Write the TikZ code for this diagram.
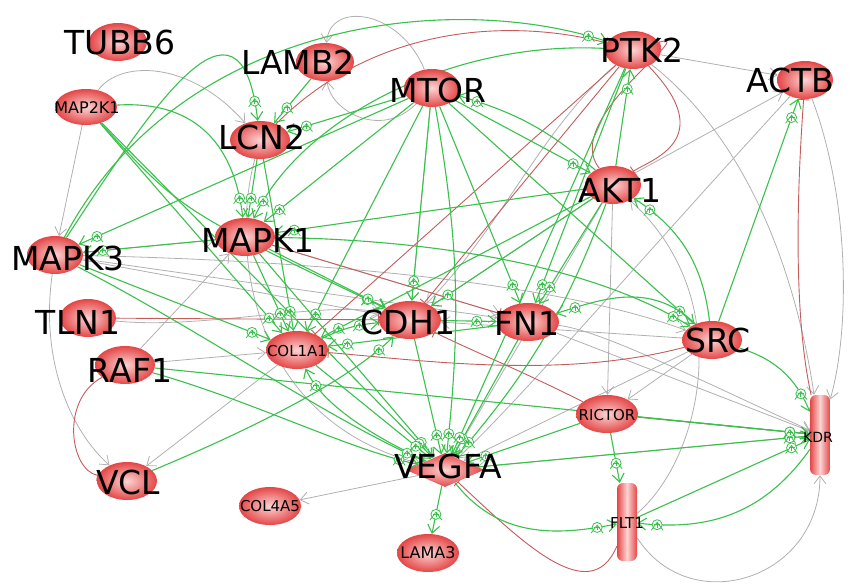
\documentclass[tikz,border=0pt]{standalone}
\usepackage{fontspec}
\setmainfont{DejaVu Sans}
\usetikzlibrary{arrows.meta, decorations.markings, backgrounds, shapes.geometric}
\definecolor{actgreen}{RGB}{58,192,76}
\definecolor{relgray}{RGB}{176,176,176}
\definecolor{inhred}{RGB}{196,92,92}
\definecolor{genein}{RGB}{252,212,212}
\definecolor{geneout}{RGB}{228,70,70}
\newcommand{\plusmark}{\pgftransformresetnontranslations
        \draw[actgreen, fill=white, line width=0.8pt] (0,0) circle (5pt);
        \draw[actgreen, line width=0.8pt] (-3pt,0) -- (3pt,0) (0,-3pt) -- (0,3pt);}
\tikzset{
    gene/.style={ellipse, inner sep=0pt, minimum width=60pt, minimum height=38pt, inner color=genein, outer color=geneout},
    receptor/.style={rectangle, rounded corners=6pt, inner sep=0pt, minimum width=20pt, minimum height=80pt, left color=geneout, right color=geneout, middle color=genein},
    biglabel/.style={font=\fontsize{33}{33}\selectfont, inner sep=0pt},
    smalllabel/.style={font=\fontsize{15}{15}\selectfont, inner sep=0pt},
    act/.style={draw=actgreen, line width=1.1pt, -{Straight Barb[length=8pt,width=12pt]}, postaction={decorate}, decoration={markings, mark=at position -20pt with {\plusmark}}},
    rel/.style={draw=relgray, line width=0.8pt, -{Straight Barb[length=8pt,width=12pt]}},
    inh/.style={draw=inhred, line width=0.9pt, -{Bar[width=11pt]}}
}
\begin{document}
\begin{tikzpicture}[x=1pt, y=-1pt]
        \useasboundingbox (0,0) rectangle (850,585);
        \node[gene, minimum width=58pt] (tubb6) at (118,42) {};
        \node[gene, minimum width=58pt] (lamb2) at (325,62) {};
        \node[gene, minimum width=62pt, minimum height=36pt] (map2k1) at (86,107) {};
        \node[gene] (lcn2) at (260,140) {};
        \node[gene, minimum width=56pt] (mtor) at (432,88) {};
        \node[gene, minimum width=56pt] (ptk2) at (633,50) {};
        \node[gene, minimum width=56pt] (actb) at (805,80) {};
        \node[gene, minimum width=56pt] (akt1) at (613,185) {};
        \node[gene] (mapk1) at (245,237) {};
        \node[gene, minimum width=56pt] (mapk3) at (55,255) {};
        \node[gene, minimum width=56pt] (tln1) at (88,318) {};
        \node[gene, minimum width=62pt] (col1a1) at (297,350) {};
        \node[gene, minimum width=62pt] (cdh1) at (410,320) {};
        \node[gene, minimum width=62pt] (fn1) at (528,322) {};
        \node[gene] (src) at (712,340) {};
        \node[gene] (raf1) at (125,365) {};
        \node[gene, minimum width=62pt] (rictor) at (607,414) {};
        \node[receptor] (kdr) at (820,435) {};
        \node[gene] (vcl) at (127,481) {};
        \node[diamond, aspect=2.4, inner sep=0pt, minimum width=78pt, minimum height=34pt, inner color=genein, outer color=geneout] (vegfa) at (445,470) {};
        \node[gene, minimum width=62pt] (col4a5) at (270,506) {};
        \node[receptor, minimum height=78pt] (flt1) at (627,522) {};
        \node[gene, minimum width=62pt] (lama3) at (428,553) {};

        \begin{pgfonlayer}{background}
        \draw[rel] (map2k1) -- (mapk3);
        \draw[rel] (map2k1) .. controls (120,60) and (190,60) .. (lcn2);
        \draw[rel] (mtor) .. controls (400,10) and (330,0) .. (lamb2);
        \draw[rel] (mtor) .. controls (380,140) and (330,110) .. (lamb2);
        \draw[rel] (ptk2) -- (actb);
        \draw[rel] (akt1) -- (actb);
        \draw[rel] (mapk3) -- (mapk1);
        \draw[rel] (mapk3) -- (cdh1);
        \draw[rel] (mapk3) -- (fn1);
        \draw[rel] (mapk3) .. controls (300,260) and (550,280) .. (src);
        \draw[rel] (mapk1) -- (fn1);
        \draw[rel] (raf1) -- (col1a1);
        \draw[rel] (raf1) -- (mapk1);
        \draw[rel] (mapk3) .. controls (40,360) and (70,430) .. (vcl);
        \draw[rel] (col1a1) -- (vcl);
        \draw[rel] (vegfa) -- (col4a5);
        \draw[rel] (src) -- (rictor);
        \draw[rel] (akt1) -- (rictor);
        \draw[rel] (actb) .. controls (850,200) and (850,330) .. (kdr);
        \draw[rel] (ptk2) .. controls (760,150) and (800,300) .. (kdr);
        \draw[rel] (fn1) -- (kdr);
        \draw[rel] (flt1) .. controls (690,620) and (820,580) .. (kdr);
        \draw[rel] (src) -- (cdh1);
        \draw[rel] (akt1) -- (cdh1);
        \draw[rel] (akt1) -- (vegfa);
        \draw[rel] (src) -- (vegfa);
        \draw[rel] (kdr) -- (vegfa);
        \draw[rel] (flt1) .. controls (700,460) and (740,300) .. (akt1);
        \draw[rel] (mtor) -- (cdh1);
        \draw[rel] (lcn2) .. controls (230,250) and (250,420) .. (vegfa);
        \draw[rel] (tln1) .. controls (200,330) and (330,300) .. (cdh1);
        \draw[rel] (ptk2) .. controls (540,130) and (500,230) .. (cdh1);
        \draw[rel] (actb) .. controls (640,260) and (520,400) .. (vegfa);
        \draw[rel] (fn1) .. controls (600,330) and (700,380) .. (kdr);
        \draw[inh] (lcn2) .. controls (380,20) and (520,20) .. (ptk2);
        \draw[inh] (raf1) .. controls (60,400) and (70,470) .. (vcl);
        \draw[inh] (tln1) -- (cdh1);
        \draw[inh] (mapk1) -- (fn1);
        \draw[inh] (ptk2) -- (cdh1);
        \draw[inh] (ptk2) -- (col1a1);
        \draw[inh] (kdr) .. controls (790,300) and (800,150) .. (actb);
        \draw[inh] (rictor) -- (kdr);
        \draw[inh] (rictor) .. controls (520,370) and (470,350) .. (cdh1);
        \draw[inh] (flt1) .. controls (590,610) and (520,540) .. (vegfa);
        \draw[inh] (ptk2) .. controls (720,140) and (650,160) .. (akt1);
        \draw[inh] (akt1) .. controls (560,120) and (700,30) .. (ptk2);
        \draw[inh] (src) .. controls (560,380) and (420,360) .. (col1a1);
        \draw[act] (lamb2) -- (lcn2);
        \draw[act] (map2k1) .. controls (200,100) and (235,150) .. (mapk1);
        \draw[act] (mapk3) .. controls (150,110) and (240,-30) .. (lcn2);
        \draw[act] (map2k1) -- (col1a1);
        \draw[act] (map2k1) .. controls (180,210) .. (cdh1);
        \draw[act] (mapk1) -- (mapk3);
        \draw[act] (mtor) -- (mapk3);
        \draw[act] (mtor) -- (mapk1);
        \draw[act] (mtor) -- (col1a1);
        \draw[act] (mtor) -- (cdh1);
        \draw[act] (mtor) -- (fn1);
        \draw[act] (mtor) to[bend left=8] (vegfa);
        \draw[act] (mtor) -- (akt1);
        \draw[act] (mtor) -- (src);
        \draw[act] (mtor) -- (lcn2);
        \draw[act] (akt1) to[bend right=12] (mtor);
        \draw[act] (ptk2) .. controls (450,40) and (300,120) .. (mapk1);
        \draw[act] (ptk2) -- (fn1);
        \draw[act] (akt1) -- (ptk2);
        \draw[act] (mapk3) .. controls (180,20) and (450,-10) .. (ptk2);
        \draw[act] (akt1) -- (mapk1);
        \draw[act] (akt1) -- (fn1);
        \draw[act] (akt1) -- (cdh1);
        \draw[act] (akt1) to[bend left=10] (vegfa);
        \draw[act] (akt1) -- (col1a1);
        \draw[act] (src) to[bend right=25] (akt1);
        \draw[act] (src) -- (actb);
        \draw[act] (src) to[bend left=25] (kdr);
        \draw[act] (src) .. controls (650,280) and (600,300) .. (fn1);
        \draw[act] (mapk1) .. controls (450,240) and (600,270) .. (src);
        \draw[act] (mapk1) -- (col1a1);
        \draw[act] (mapk1) -- (vegfa);
        \draw[act] (mapk1) -- (cdh1);
        \draw[act] (mapk3) -- (col1a1);
        \draw[act] (raf1) -- (kdr);
        \draw[act] (raf1) .. controls (250,400) and (350,450) .. (vegfa);
        \draw[act] (vcl) .. controls (250,430) and (350,380) .. (cdh1);
        \draw[act] (cdh1) -- (vegfa);
        \draw[act] (fn1) -- (vegfa);
        \draw[act] (vegfa) -- (lama3);
        \draw[act] (vegfa) -- (kdr);
        \draw[act] (vegfa) .. controls (500,540) and (560,535) .. (flt1);
        \draw[act] (rictor) -- (flt1);
        \draw[act] (rictor) -- (kdr);
        \draw[act] (flt1) -- (kdr);
        \draw[act] (kdr) .. controls (760,520) and (700,530) .. (flt1);
        \draw[act] (fn1) -- (col1a1);
        \draw[act] (col1a1) to[bend left=10] (cdh1);
        \draw[act] (vegfa) .. controls (360,430) and (320,400) .. (col1a1);
        \draw[act] (rictor) -- (vegfa);
        \draw[act] (cdh1) -- (fn1);
        \draw[act] (lcn2) -- (mapk1);
        \draw[act] (lcn2) -- (col1a1);
        \draw[act] (map2k1) -- (vegfa);
        \draw[act] (mapk3) .. controls (200,330) and (330,420) .. (vegfa);
        \draw[act] (col1a1) -- (vegfa);
        \draw[act] (ptk2) -- (vegfa);
        \end{pgfonlayer}

        \node[biglabel] (tubb6-t) at (120,42) {TUBB6};
        \node[biglabel] (lamb2-t) at (298,62) {LAMB2};
        \node[smalllabel, font=\fontsize{16}{16}\selectfont] (map2k1-t) at (87,108) {MAP2K1};
        \node[biglabel] (lcn2-t) at (262,137) {LCN2};
        \node[biglabel] (mtor-t) at (438,90) {MTOR};
        \node[biglabel] (ptk2-t) at (642,50) {PTK2};
        \node[biglabel] (actb-t) at (790,80) {ACTB};
        \node[biglabel] (akt1-t) at (620,190) {AKT1};
        \node[biglabel] (mapk1-t) at (258,240) {MAPK1};
        \node[biglabel] (mapk3-t) at (68,258) {MAPK3};
        \node[biglabel] (tln1-t) at (78,322) {TLN1};
        \node[smalllabel] (col1a1-t) at (297,351) {COL1A1};
        \node[biglabel] (cdh1-t) at (408,322) {CDH1};
        \node[biglabel] (fn1-t) at (527,323) {FN1};
        \node[biglabel] (src-t) at (718,340) {SRC};
        \node[biglabel] (raf1-t) at (130,370) {RAF1};
        \node[smalllabel] (rictor-t) at (607,415) {RICTOR};
        \node[smalllabel, font=\fontsize{14}{14}\selectfont] (kdr-t) at (818,437) {KDR};
        \node[biglabel] (vcl-t) at (128,482) {VCL};
        \node[biglabel] (vegfa-t) at (448,466) {VEGFA};
        \node[smalllabel] (col4a5-t) at (270,506) {COL4A5};
        \node[smalllabel] (flt1-t) at (627,523) {FLT1};
        \node[smalllabel, font=\fontsize{16}{16}\selectfont] (lama3-t) at (428,553) {LAMA3};
\end{tikzpicture}
\end{document}
